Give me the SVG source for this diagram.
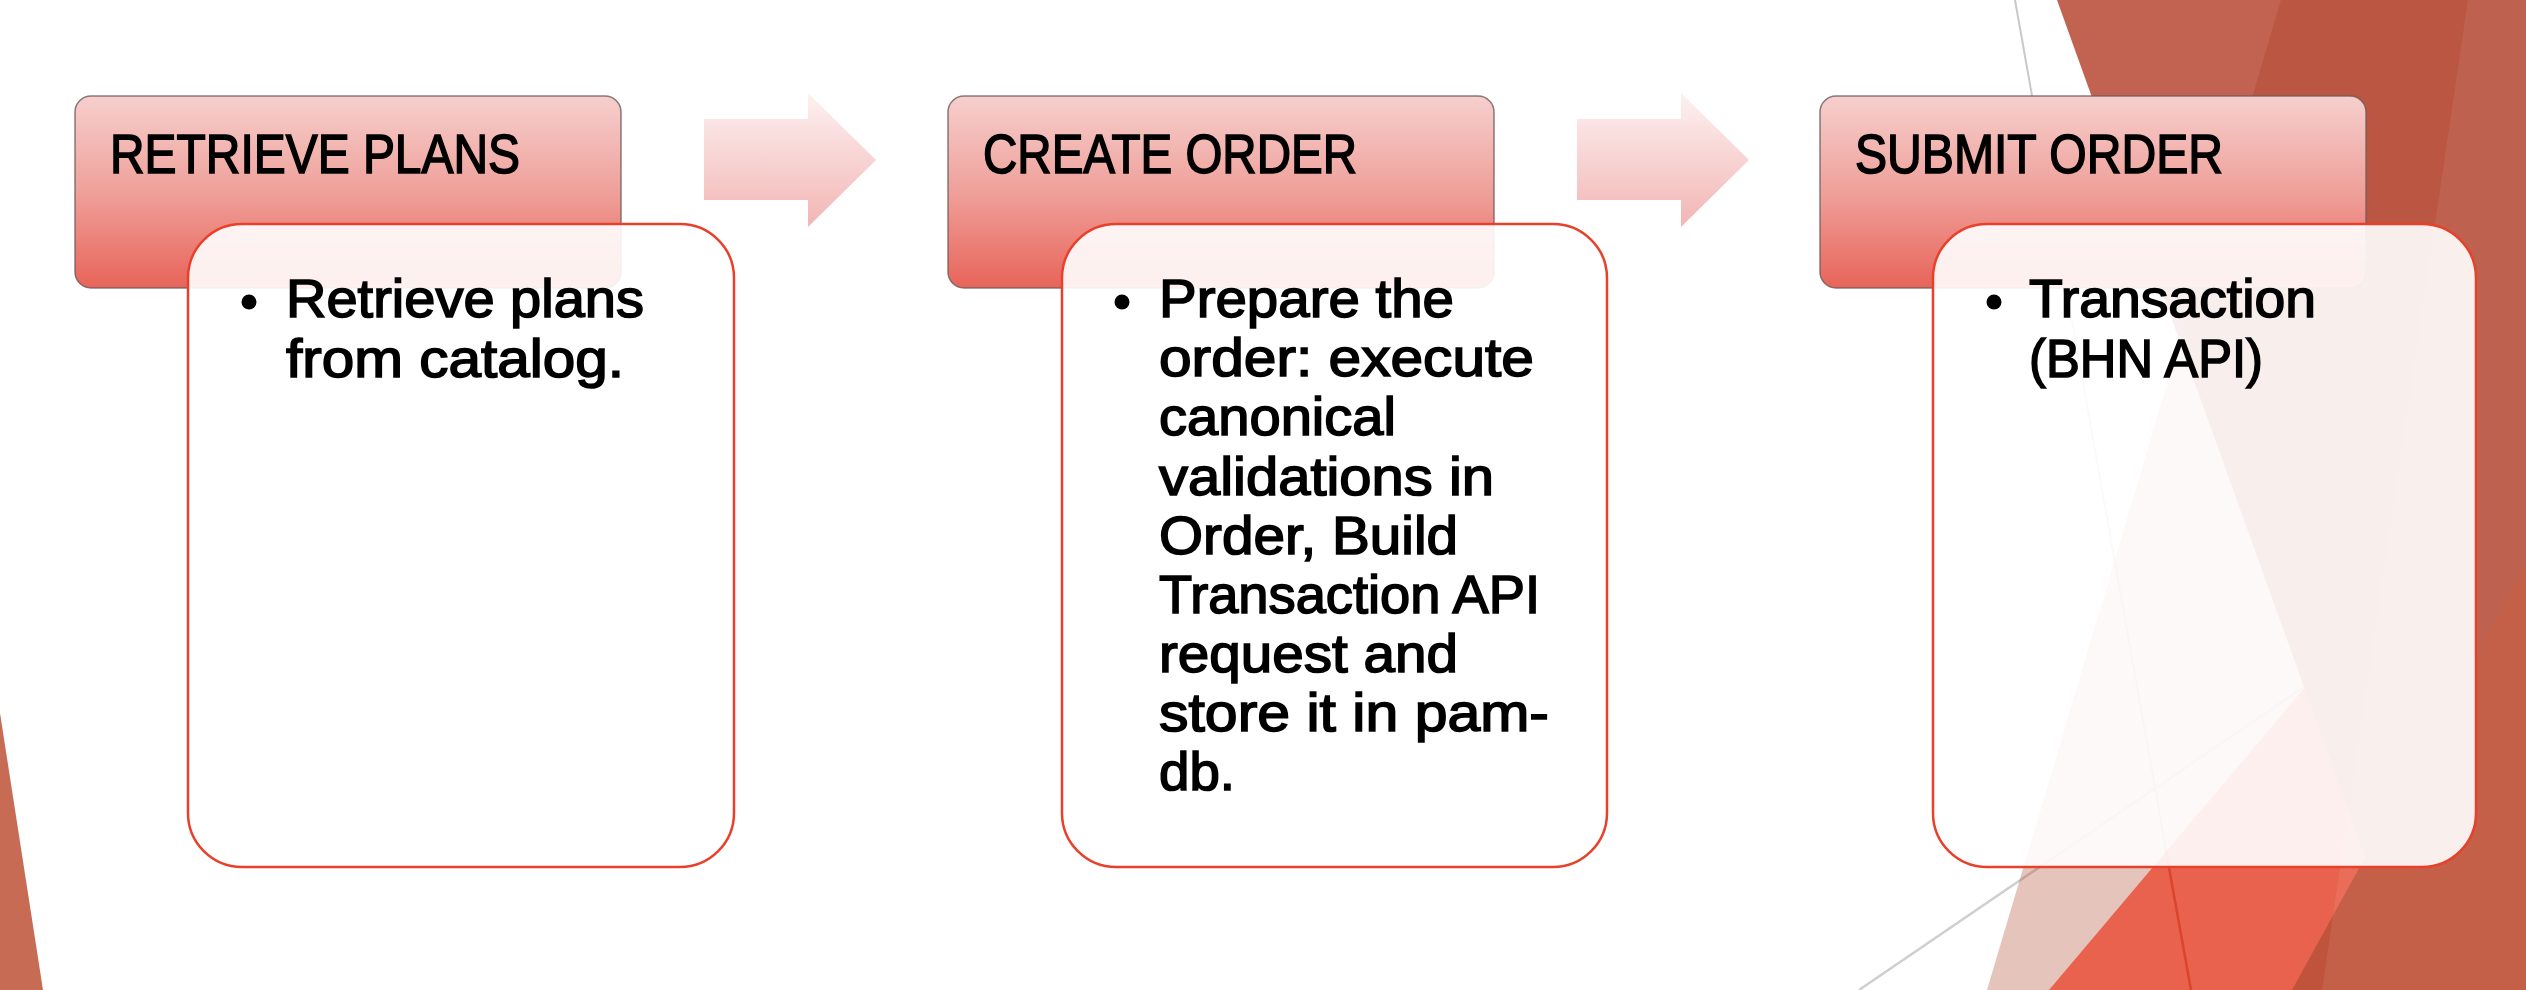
<svg xmlns="http://www.w3.org/2000/svg" width="2526" height="990" viewBox="0 0 2526 990">
<defs>
<linearGradient id="hdr" x1="0" y1="0" x2="0" y2="1">
<stop offset="0" stop-color="#f6cfcd"/>
<stop offset="0.5" stop-color="#efa09a"/>
<stop offset="1" stop-color="#e8645a"/>
</linearGradient>
<linearGradient id="arr" gradientUnits="userSpaceOnUse" x1="0" y1="93" x2="0" y2="227">
<stop offset="0" stop-color="#fdf1f1"/>
<stop offset="1" stop-color="#f2b5b4"/>
</linearGradient>
<style>
.hdr{fill:url(#hdr);stroke:#6e5a5a;stroke-opacity:0.8;stroke-width:1.5}
.body{fill:#ffffff;fill-opacity:0.9;stroke:#e8402a;stroke-width:2.5}
.arrow{fill:url(#arr)}
.ht{font-family:"Liberation Sans",Arial,sans-serif;font-size:56px;fill:#000;stroke:#000;stroke-width:1.6}
.bt{font-family:"Liberation Sans",Arial,sans-serif;font-size:54px;fill:#000;stroke:#000;stroke-width:1.6}
.dot{fill:#000}
</style>
</defs>
<rect width="2526" height="990" fill="#ffffff"/>
<g id="background">
<polygon points="0,713 43,990 0,990" fill="#c86b55"/>
<line x1="2015" y1="0" x2="2191" y2="990" stroke="#c8c8c8" stroke-width="2"/>
<line x1="1859" y1="990" x2="2420" y2="608" stroke="#cfcfcf" stroke-width="2.5"/>
<polygon points="2281,0 2526,0 2526,990 1987,990" fill="#a83a20" fill-opacity="0.3"/>
<polygon points="2049,990 2526,426 2526,990" fill="#e8624d"/>
<polygon points="2057,0 2526,0 2526,990 2413,990" fill="#c26250"/>
<polygon points="2281,0 2526,0 2526,990 2413,990 2180,341" fill="#a83a20" fill-opacity="0.3"/>
<polygon points="2292,990 2526,565 2526,990" fill="#c0533b"/>
<polygon points="2468,0 2526,0 2526,990 2322,990" fill="#ffffff" fill-opacity="0.07"/>
<line x1="2166" y1="851" x2="2191" y2="990" stroke="#d9452f" stroke-width="2.5"/>
</g>
<g id="connectors">
<polygon class="arrow" points="704,119 808,119 808,93 876,160 808,227 808,200 704,200"/>
<polygon class="arrow" points="1577,119 1681,119 1681,93 1749,160 1681,227 1681,200 1577,200"/>
</g>
<g id="node-retrieve-plans">
<rect class="hdr" x="75" y="96" width="546" height="192" rx="16"/>
<text class="ht" x="110" y="173" textLength="410" lengthAdjust="spacingAndGlyphs">RETRIEVE PLANS</text>
<rect class="body" x="188" y="224" width="546" height="643" rx="54"/>
<circle class="dot" cx="249" cy="302" r="7.5"/>
<text class="bt" x="286" y="317" textLength="358" lengthAdjust="spacingAndGlyphs">Retrieve plans</text>
<text class="bt" x="286" y="377" textLength="338" lengthAdjust="spacingAndGlyphs">from catalog.</text>
</g>
<g id="node-create-order">
<rect class="hdr" x="948" y="96" width="546" height="192" rx="16"/>
<text class="ht" x="983" y="173" textLength="374" lengthAdjust="spacingAndGlyphs">CREATE ORDER</text>
<rect class="body" x="1062" y="224" width="545" height="643" rx="54"/>
<circle class="dot" cx="1122" cy="302" r="7.5"/>
<text class="bt" x="1159" y="317" textLength="295" lengthAdjust="spacingAndGlyphs">Prepare the</text>
<text class="bt" x="1159" y="376" textLength="375" lengthAdjust="spacingAndGlyphs">order: execute</text>
<text class="bt" x="1159" y="435" textLength="237" lengthAdjust="spacingAndGlyphs">canonical</text>
<text class="bt" x="1159" y="494.5" textLength="335" lengthAdjust="spacingAndGlyphs">validations in</text>
<text class="bt" x="1159" y="554" textLength="299" lengthAdjust="spacingAndGlyphs">Order, Build</text>
<text class="bt" x="1159" y="613" textLength="381" lengthAdjust="spacingAndGlyphs">Transaction API</text>
<text class="bt" x="1159" y="672" textLength="299" lengthAdjust="spacingAndGlyphs">request and</text>
<text class="bt" x="1159" y="731" textLength="390" lengthAdjust="spacingAndGlyphs">store it in pam-</text>
<text class="bt" x="1159" y="790" textLength="76" lengthAdjust="spacingAndGlyphs">db.</text>
</g>
<g id="node-submit-order">
<rect class="hdr" x="1820" y="96" width="546" height="192" rx="16"/>
<text class="ht" x="1855" y="173" textLength="368" lengthAdjust="spacingAndGlyphs">SUBMIT ORDER</text>
<rect class="body" x="1933" y="224" width="543" height="643" rx="54"/>
<circle class="dot" cx="1994" cy="302" r="7.5"/>
<text class="bt" x="2029" y="317" textLength="287" lengthAdjust="spacingAndGlyphs">Transaction</text>
<text class="bt" x="2029" y="377" textLength="234" lengthAdjust="spacingAndGlyphs">(BHN API)</text>
</g>
</svg>
